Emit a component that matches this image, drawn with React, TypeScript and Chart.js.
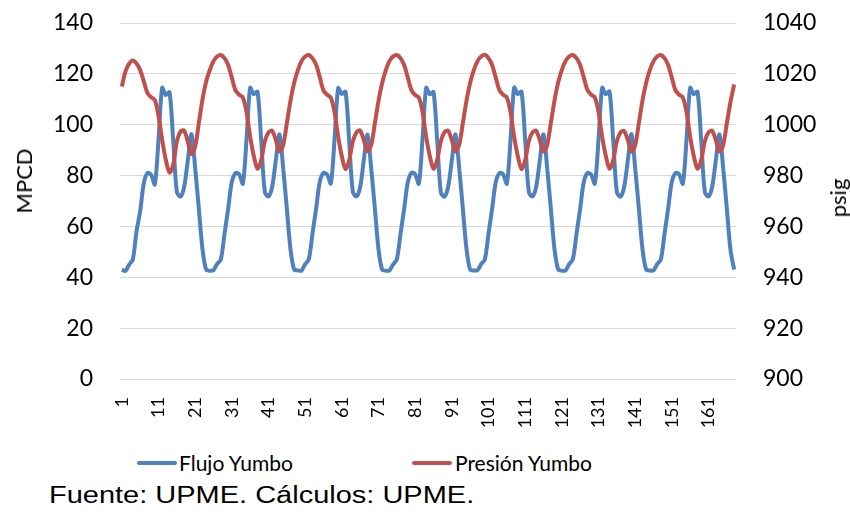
import React, { useEffect, useRef } from "react";
import { Chart, registerables } from "chart.js";

Chart.register(...registerables);

// Horas (1..168) de la semana
const horas: string[] = Array.from({ length: 168 }, (_, i) => String(i + 1));

// Flujo Yumbo (MPCD), 7 días x 24 horas
const flujoYumbo: number[] = [
  43, 42.5, 45, 47, 58, 66, 77, 81, 80.3, 76.5, 94, 114.5, 111.7, 112.8, 94, 73.6, 71.7, 75.6, 86, 96.3, 83, 67, 51, 43,
  42.6, 42.8, 45.3, 47, 57, 67, 77.5, 81, 80.5, 76.8, 94, 114.5, 112, 113, 94, 73.5, 71.8, 75.6, 86, 96.2, 83, 67, 51, 43,
  42.7, 42.6, 45.2, 47.1, 57.2, 67.2, 77.6, 81, 80.4, 76.9, 94, 114.4, 112.1, 113, 93.8, 73.6, 71.8, 75.5, 86.2, 96.1, 83, 67.2, 51, 43,
  42.6, 42.7, 45.1, 47, 57, 67, 77.4, 81.1, 80.5, 76.8, 94.2, 114.5, 112, 112.9, 94, 73.4, 71.7, 75.6, 86, 96.2, 83.1, 67, 51.1, 43,
  42.7, 42.8, 45.2, 47, 57.1, 67.1, 77.5, 81, 80.5, 76.8, 94, 114.6, 112, 113, 94, 73.5, 71.8, 75.6, 86.1, 96.2, 83, 67, 51, 43.1,
  42.6, 42.7, 45.2, 47.1, 57, 67, 77.5, 81, 80.4, 76.8, 94, 114.5, 112, 113.1, 94.1, 73.5, 71.7, 75.6, 86, 96.3, 83, 67.1, 51, 43,
  42.7, 42.7, 45.2, 47, 57, 67.1, 77.5, 81, 80.5, 76.8, 94, 114.5, 112, 113, 94, 73.5, 71.8, 75.6, 86, 96.2, 83, 67, 50.7, 43,
];

// Presión Yumbo (psig), 7 días x 24 horas
const presionYumbo: number[] = [
  1015, 1021, 1024, 1025.3, 1024.1, 1021.5, 1017, 1012.4, 1010.8, 1009.7, 1003.5, 994, 986.1, 981.2, 984.2, 993.3, 997.3, 997.7, 993.3, 988.5, 991.4, 1000.6, 1010, 1017,
  1021.5, 1025, 1026.8, 1027.4, 1026.2, 1023.5, 1018.5, 1013.5, 1011.8, 1010.7, 1005, 995.2, 987.6, 982.7, 986, 993.5, 997, 997.6, 994, 989.5, 992, 1000.5, 1009.5, 1016.5,
  1021.4, 1025, 1026.8, 1027.4, 1026.1, 1023.6, 1018.6, 1013.4, 1011.8, 1010.6, 1005, 995.3, 987.5, 982.6, 986, 993.4, 997, 997.7, 994, 989.6, 992, 1000.4, 1009.4, 1016.4,
  1021.5, 1025.1, 1026.9, 1027.4, 1026.2, 1023.5, 1018.5, 1013.5, 1011.7, 1010.7, 1005.1, 995.2, 987.6, 982.7, 986.1, 993.5, 997.1, 997.6, 994, 989.5, 992.1, 1000.5, 1009.5, 1016.5,
  1021.5, 1025, 1026.8, 1027.5, 1026.2, 1023.4, 1018.4, 1013.5, 1011.8, 1010.7, 1005, 995.1, 987.6, 982.6, 986, 993.6, 997, 997.6, 993.9, 989.5, 992, 1000.6, 1009.5, 1016.6,
  1021.6, 1025, 1026.8, 1027.4, 1026.2, 1023.5, 1018.5, 1013.6, 1011.8, 1010.7, 1005, 995.2, 987.7, 982.7, 986, 993.5, 997, 997.5, 994, 989.4, 992, 1000.5, 1009.6, 1016.5,
  1021.5, 1025, 1026.8, 1027.4, 1026.2, 1023.5, 1018.5, 1013.5, 1011.8, 1010.7, 1005, 995.2, 987.6, 982.7, 986, 993.5, 997, 997.6, 994, 989.5, 992, 1000.5, 1009, 1015.8,
];

const etiquetaCada = 10;
const tickFont = { family: "Lato", size: 23 };
const xTickFont = { family: "Lato", size: 18 };

export default function App() {
  const canvasRef = useRef<HTMLCanvasElement | null>(null);

  useEffect(() => {
    if (!canvasRef.current) return;
    const chart = new Chart(canvasRef.current, {
      type: "line",
      data: {
        labels: horas,
        datasets: [
          {
            label: "Flujo Yumbo",
            data: flujoYumbo,
            borderColor: "#4F81BD",
            backgroundColor: "#4F81BD",
            borderWidth: 4,
            pointRadius: 0,
            tension: 0.3,
            yAxisID: "y",
            order: 1,
          },
          {
            label: "Presión Yumbo",
            data: presionYumbo,
            borderColor: "#C0504D",
            backgroundColor: "#C0504D",
            borderWidth: 4,
            pointRadius: 0,
            tension: 0.3,
            yAxisID: "y1",
            order: 0,
          },
        ],
      },
      options: {
        animation: false,
        responsive: true,
        maintainAspectRatio: false,
        layout: { padding: { top: 23, left: 0, right: 0, bottom: 0 } },
        plugins: {
          legend: { display: false },
          tooltip: { enabled: false },
        },
        scales: {
          x: {
            type: "category",
            offset: true,
            grid: { display: false, drawTicks: false },
            border: { display: false },
            ticks: {
              autoSkip: false,
              maxRotation: 90,
              minRotation: 90,
              padding: 18,
              color: "#000",
              font: xTickFont,
              callback: (_v: any, i: number) => (i % etiquetaCada === 0 ? horas[i] : null),
            },
            afterFit: (s: any) => {
              s.height = 61;
            },
          },
          y: {
            position: "left",
            min: 0,
            max: 140,
            ticks: { stepSize: 20, padding: 0, color: "#000", font: tickFont, callback: (v: any) => String(v) },
            grid: {
              color: "#D9D9D9",
              lineWidth: 1,
              drawTicks: true,
              tickLength: 27,
              tickColor: "rgba(0,0,0,0)",
            },
            border: { display: false },
            afterFit: (s: any) => {
              s.width = 120;
            },
          },
          y1: {
            position: "right",
            min: 900,
            max: 1040,
            ticks: { stepSize: 20, padding: 0, color: "#000", font: tickFont, callback: (v: any) => String(v) },
            grid: {
              drawOnChartArea: false,
              drawTicks: true,
              tickLength: 27,
              tickColor: "rgba(0,0,0,0)",
            },
            border: { display: false },
            afterFit: (s: any) => {
              s.width = 114;
            },
          },
        },
      },
    });
    return () => chart.destroy();
  }, []);

  const legendText: React.CSSProperties = {
    fontFamily: "Lato",
    fontSize: 21,
    color: "#000",
    lineHeight: 1,
    whiteSpace: "nowrap",
  };

  const axisTitle: React.CSSProperties = {
    position: "absolute",
    transform: "translate(-50%, -50%) rotate(-90deg)",
    fontFamily: "Lato",
    fontSize: 22,
    lineHeight: 1,
    whiteSpace: "nowrap",
    color: "#000",
  };

  return (
    <div
      style={{
        position: "fixed",
        left: 0,
        top: 0,
        width: 850,
        height: 514,
        background: "#fff",
        overflow: "hidden",
      }}
    >
      <div style={{ position: "absolute", left: 0, top: 0, width: 850, height: 440 }}>
        <canvas ref={canvasRef} />
      </div>
      <div style={{ ...axisTitle, left: 24, top: 181 }}>MPCD</div>
      <div style={{ ...axisTitle, left: 838, top: 198 }}>psig</div>
      <div style={{ position: "absolute", left: 137, top: 452, display: "flex", alignItems: "center" }}>
        <div style={{ width: 40, height: 4, background: "#4F81BD", borderRadius: 2 }} />
        <span style={{ ...legendText, marginLeft: 2 }}>Flujo Yumbo</span>
      </div>
      <div style={{ position: "absolute", left: 412, top: 452, display: "flex", alignItems: "center" }}>
        <div style={{ width: 40, height: 4, background: "#C0504D", borderRadius: 2 }} />
        <span style={{ ...legendText, marginLeft: 3 }}>Presión Yumbo</span>
      </div>
      <div
        style={{
          position: "absolute",
          left: 49,
          top: 484,
          fontFamily: "'Liberation Sans', Arial, sans-serif",
          fontSize: 23,
          lineHeight: 1,
          whiteSpace: "nowrap",
          color: "#000",
          transform: "scaleX(1.26)",
          transformOrigin: "left top",
        }}
      >
        Fuente: UPME. Cálculos: UPME.
      </div>
    </div>
  );
}
